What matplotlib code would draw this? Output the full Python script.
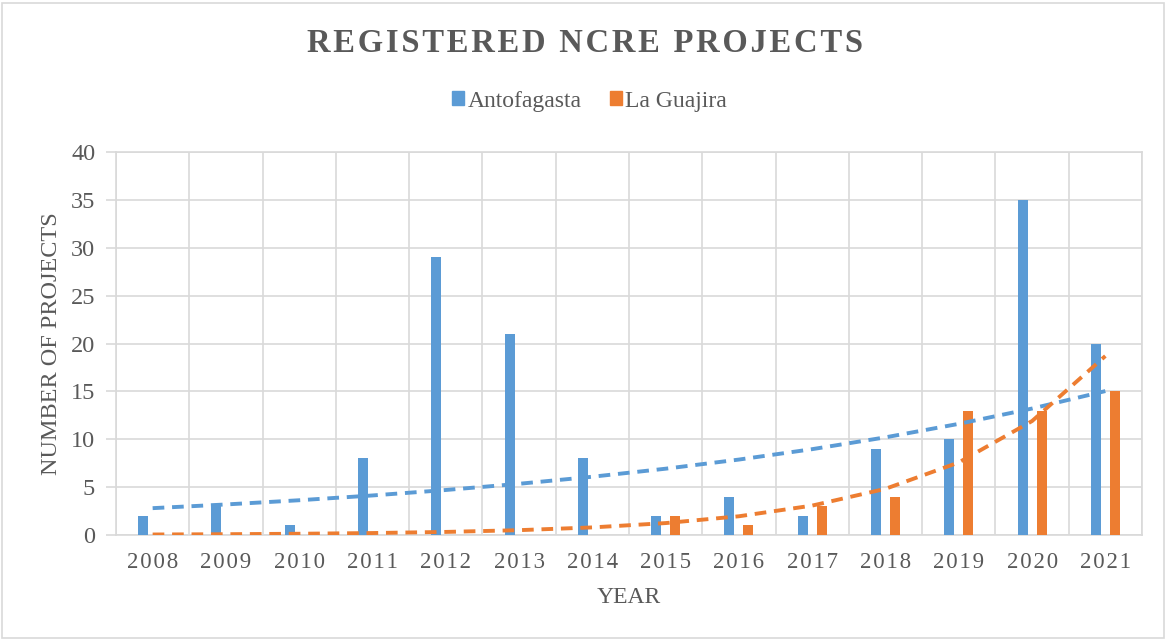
import numpy as np
import matplotlib
matplotlib.use("Agg")
import matplotlib.pyplot as plt
from matplotlib.patches import Rectangle

# data
years = [2008, 2009, 2010, 2011, 2012, 2013, 2014,
         2015, 2016, 2017, 2018, 2019, 2020, 2021]
antofagasta = [2, 3, 1, 8, 29, 21, 8, 2, 4, 2, 9, 10, 35, 20]
la_guajira = [0, 0, 0, 0, 0, 0, 0, 2, 1, 3, 4, 13, 13, 15]

BLUE = "#5b9bd5"
ORANGE = "#ed7d31"
GRAY = "#595959"
GRID = "#d9d9d9"
HS = "\u200a"  # hair space for letter spacing

plt.rcParams['font.family'] = ['Liberation Serif', 'DejaVu Serif']


def spaced(s, sep=HS):
    return sep.join(s)


def exp_trend(x, y):
    # Excel-style exponential trendline (zeros cannot be fitted)
    x = np.asarray(x, float)
    y = np.asarray(y, float)
    m = y > 0
    b, a = np.polyfit(x[m], np.log(y[m]), 1)
    return np.exp(a + b * x)


fig = plt.figure(figsize=(11.68, 6.41), dpi=100)
ax = fig.add_axes([116 / 1168, 1 - 535 / 641, (1142 - 116) / 1168, (535 - 152) / 641])

idx = np.arange(len(years))
w = 0.136
ax.bar(idx - 0.13, antofagasta, width=w, color=BLUE, zorder=3)
ax.bar(idx + 0.13, la_guajira, width=w, color=ORANGE, zorder=3)

xs = idx + 1
ax.plot(idx, exp_trend(xs, antofagasta), color=BLUE, lw=2.8,
        dashes=(3, 2), zorder=4)
ax.plot(idx, exp_trend(xs, la_guajira), color=ORANGE, lw=2.8,
        dashes=(3, 2), zorder=4)

ax.set_xlim(-0.5, len(years) - 0.5)
ax.set_ylim(0, 40)
ax.set_yticks(range(0, 41, 5))
ax.set_xticks(idx)
ax.set_xticklabels([spaced(str(y)) for y in years], fontsize=16.5, color=GRAY)
ax.tick_params(axis='y', labelsize=17.5, colors=GRAY, length=7, color=GRID, width=1.2, pad=8)
ax.tick_params(axis='x', length=0, pad=12)
ax.set_xticks(np.arange(-0.5, len(years)), minor=True)
ax.tick_params(axis='x', which='minor', length=0)
ax.grid(True, which='minor', axis='x', color=GRID, lw=1.2, zorder=0)
ax.grid(True, which='major', axis='y', color=GRID, lw=1.2, zorder=0)
for s in ax.spines.values():
    s.set_color(GRID)
    s.set_linewidth(1.2)

ax.set_xlabel("YEAR", fontsize=17, color=GRAY, labelpad=10)
ax.set_ylabel("NUMBER OF PROJECTS", fontsize=17.5, color=GRAY, labelpad=6)

fig.text(0.501, 1 - 43 / 641, spaced("REGISTERED NCRE PROJECTS"), ha='center', va='center',
         fontsize=23.5, fontweight='bold', color=GRAY)

# legend
handles = [Rectangle((0, 0), 1, 1, color=BLUE), Rectangle((0, 0), 1, 1, color=ORANGE)]
fig.legend(handles, ["Antofagasta", "La Guajira"], loc='center',
           bbox_to_anchor=(0.505, 1 - 101 / 641), ncol=2, frameon=False,
           fontsize=17, labelcolor=GRAY, handlelength=0.5, handleheight=0.5,
           handletextpad=0.15, columnspacing=1.2)

# light border around whole chart
fig.patches.append(Rectangle((0.002, 0.004), 0.995, 0.992, transform=fig.transFigure,
                             fill=False, edgecolor=GRID, lw=1.2))

fig.savefig("out.png", dpi=100)
